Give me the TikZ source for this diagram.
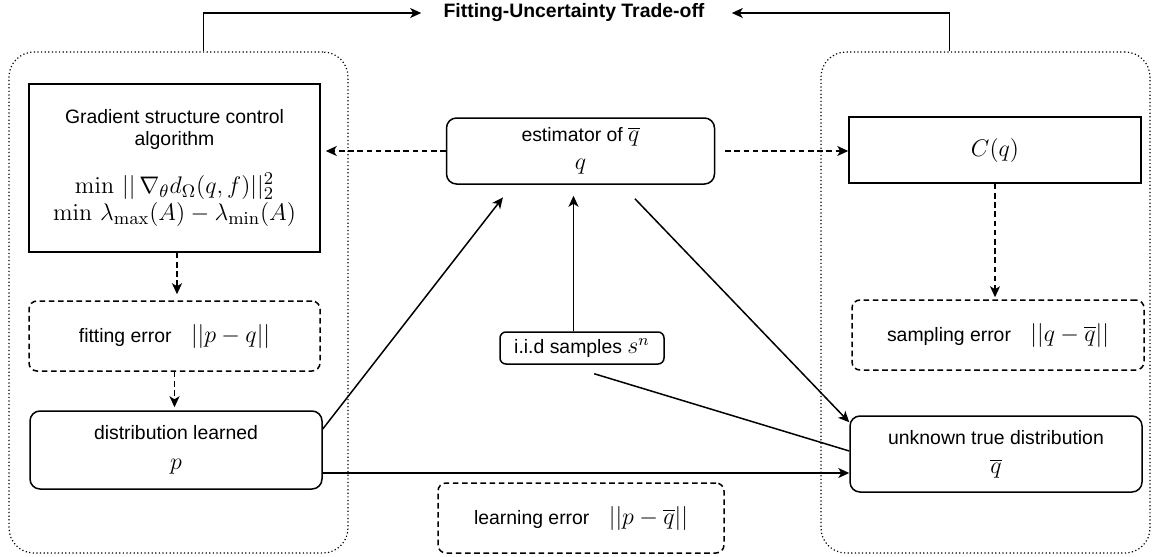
\documentclass[tikz,border=0pt]{standalone}
\usepackage[no-math]{fontspec}
\setmainfont{Liberation Sans}
\usetikzlibrary{arrows.meta,calc}
\newcommand{\mathbig}[1]{{\fontsize{11.8}{13}\selectfont$#1$}}
\newcommand{\mathbigger}[1]{{\fontsize{12.8}{14}\selectfont$#1$}}

\begin{document}
\begin{tikzpicture}[x=0.5pt,y=-0.5pt,
  every node/.style={font=\fontsize{9.7}{11.6}\selectfont, align=center, inner sep=0pt},
  group/.style={draw, line width=0.6pt, dash pattern=on 0.6pt off 1.2pt, rounded corners=12.5pt},
  box/.style={draw, line width=0.75pt},
  rbox/.style={draw, line width=0.75pt, rounded corners=5pt},
  errbox/.style={draw, line width=0.75pt, rounded corners=4pt, dash pattern=on 2.8pt off 1.8pt},
  arr/.style={line width=0.75pt, -{Stealth[length=5.5pt,width=5pt,inset=1.5pt]}},
  darr/.style={arr, dash pattern=on 2.8pt off 1.8pt}]
\useasboundingbox (0,0) rectangle (1154,556);

% the two groups
\node[group, minimum width=169.5pt, minimum height=250.5pt] (lc) at (178.5,302.5) {};
\node[group, minimum width=164.5pt, minimum height=250.5pt] (rc) at (985.5,302.5) {};
\node[font=\fontsize{9.7}{11.6}\selectfont\bfseries] (title) at (574,13) {Fitting-Uncertainty Trade-off};

% left side
\node[box, minimum width=145.5pt, minimum height=84pt] (grad) at (174.5,168)
  {Gradient structure control\\[-0.8pt]algorithm\\[11pt]
   \mathbigger{\min\,||\,\nabla_{\theta}d_{\Omega}(q,f)||_2^2}\\[0.5pt]
   \mathbigger{\min\,\lambda_{\max}(A)-\lambda_{\min}(A)}};
\node[errbox, minimum width=145.5pt, minimum height=35pt] (fit) at (174.5,336)
  {fitting error\quad\mathbig{\left|\left|p-q\right|\right|}};
\node[rbox, minimum width=146pt, minimum height=39pt] (dist) at (176,450)
  {distribution learned\\[3.5pt]\mathbig{p}};

% middle
\node[rbox, minimum width=134pt, minimum height=33pt] (est) at (580.5,151)
  {estimator of \mathbig{\overline{q}}\\[2.5pt]\mathbig{q}};
\node[rbox, rounded corners=3pt, minimum width=82pt, minimum height=16pt] (iid) at (582,348)
  {i.i.d samples \mathbig{s^n}};
\node[errbox, minimum width=143pt, minimum height=35pt] (learn) at (581,518)
  {learning error\quad\mathbig{\left|\left|p-\overline{q}\right|\right|}};

% right side
\node[box, minimum width=146pt, minimum height=33pt] (cq) at (995,150) {\mathbig{C(q)}};
\node[errbox, minimum width=146pt, minimum height=35pt] (samp) at (998,335)
  {sampling error\quad\mathbig{\left|\left|q-\overline{q}\right|\right|}};
\node[rbox, minimum width=146pt, minimum height=38pt] (unk) at (996,454)
  {unknown true distribution\\[3pt]\mathbig{\overline{q}}};

% links to the title
\draw[arr, shorten >=11pt] ($(lc.north)+(25,0)$) |- (title.west);
\draw[arr, shorten >=13.5pt] ($(rc.north)+(-36,0)$) |- (title.east);

% dashed links
\draw[darr, shorten >=2.5pt] (est.west) -- (est.west -| grad.east);
\draw[darr, shorten <=5pt] (est.east) -- (est.east -| cq.west);
\draw[darr, shorten >=3pt] ($(grad.south)+(2.5,0)$) -- ($(grad.south |- fit.north)+(2.5,0)$);
\draw[darr, shorten >=1.5pt] (fit.south) -- (fit.south |- dist.north);
\draw[darr, shorten >=1pt] (cq.south) -- (cq.south |- samp.north);

% solid links
\coordinate (pl) at ($(dist.east)+(0,23)$);
\draw[arr, shorten >=8pt] ($(dist.east)+(0,-21)$) -- ($(est.south west)+(67,0)$);
\draw[arr, shorten >=5.5pt] ($(iid.north)+(-8.5,0)$) -- ($(est.south)+(-7,0)$);
\draw[arr, shorten <=9.7pt] ($(est.south)+(41,0)$) -- ($(unk.north west)+(0,7)$);
\draw[line width=0.75pt, shorten <=15.5pt] ($(iid.south)+(-17.5,0)$) -- ($(unk.west)+(0,-3)$);
\draw[arr] (pl) -- (pl -| unk.west);
\end{tikzpicture}
\end{document}
